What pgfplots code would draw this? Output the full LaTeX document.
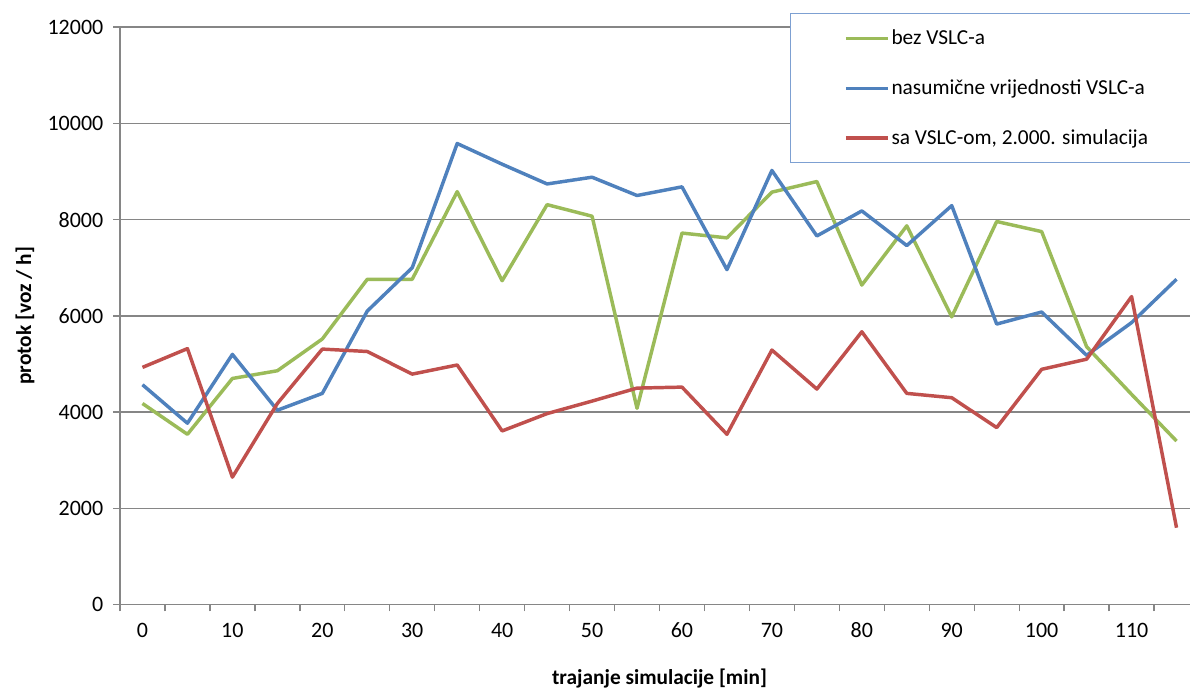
\documentclass[border=0pt]{standalone}
\usepackage{pgfplots}
\pgfplotsset{compat=1.18}
\usepackage{fontspec}
\setmainfont{Carlito}

\definecolor{sgreen}{HTML}{9BBB59}
\definecolor{sblue}{HTML}{4F81BD}
\definecolor{sred}{HTML}{C0504D}
\definecolor{axgray}{HTML}{868686}
\definecolor{legborder}{RGB}{125,160,210}

% 1 px of the reference = 0.75pt
\begin{document}
\begin{tikzpicture}
\begin{axis}[
  scale only axis,
  width=809.25pt, height=433.3pt,
  xmin=-2.5, xmax=117.5,
  ymin=0, ymax=12000,
  scaled y ticks=false,
  axis x line*=bottom, axis y line*=left,
  axis line style={draw=axgray, line width=1pt, -},
  tick align=outside,
  major tick length=5pt,
  tick style={draw=axgray, line width=1pt},
  ytick={0,2000,...,12000},
  ymajorgrids,
  grid style={draw=axgray, line width=1pt},
  xtick={-2.5,2.5,...,117.5},
  xticklabels={},
  extra x ticks={0,10,...,110},
  extra x tick labels={0,10,20,30,40,50,60,70,80,90,100,110},
  extra x tick style={major tick length=0pt, grid=none,
    xticklabel style={yshift=-10pt}},
  tick label style={font=\fontsize{16.5}{19}\selectfont, text=black},
  yticklabel style={xshift=-4pt, /pgf/number format/1000 sep={}},
  /pgf/number format/assume math mode=true,
  xlabel={trajanje simulacije [min]},
  ylabel={protok [voz / h]},
  every axis x label/.style={at={(rel axis cs:0.5,0)}, yshift=-55.7pt,
    anchor=center, font=\fontsize{16}{19}\selectfont\bfseries},
  every axis y label/.style={at={(rel axis cs:0,0.5)}, xshift=-71.25pt,
    rotate=90, anchor=center, font=\fontsize{16}{19}\selectfont\bfseries},
  legend cell align=left,
  legend style={at={(rel axis cs:0.621,1.0242)}, anchor=north west,
    draw=legborder, line width=1pt, fill=white,
    inner xsep=40pt, inner ysep=10.25pt, row sep=20.75pt,
    font=\fontsize{16}{19}\selectfont,
    nodes={inner xsep=1.5pt}},
  legend image code/.code={\draw[#1] (0pt,0pt) -- (31.5pt,0pt);},
  every axis plot/.append style={line width=2.6pt, line join=round},
]
\addplot[sgreen] coordinates {
  (0,4180) (5,3540) (10,4700) (15,4860) (20,5520) (25,6760)
  (30,6760) (35,8580) (40,6730) (45,8310) (50,8070) (55,4080)
  (60,7720) (65,7620) (70,8570) (75,8790) (80,6640) (85,7870)
  (90,5980) (95,7960) (100,7750) (105,5360) (110,4370) (115,3400)};
\addlegendentry{bez VSLC-a}
\addplot[sblue] coordinates {
  (0,4570) (5,3770) (10,5200) (15,4040) (20,4390) (25,6100)
  (30,7000) (35,9580) (40,9150) (45,8740) (50,8880) (55,8500)
  (60,8680) (65,6960) (70,9020) (75,7660) (80,8180) (85,7460)
  (90,8290) (95,5830) (100,6080) (105,5180) (110,5860) (115,6760)};
\addlegendentry{nasumične vrijednosti VSLC-a}
\addplot[sred] coordinates {
  (0,4930) (5,5320) (10,2650) (15,4180) (20,5310) (25,5260)
  (30,4790) (35,4980) (40,3610) (45,3970) (50,4230) (55,4500)
  (60,4520) (65,3540) (70,5290) (75,4480) (80,5670) (85,4390)
  (90,4300) (95,3680) (100,4890) (105,5100) (110,6400) (115,1600)};
\addlegendentry{sa VSLC-om, 2.000. simulacija}
\coordinate (bl) at (rel axis cs:0,0);
\coordinate (tr) at (rel axis cs:1,1);
\end{axis}
\pgfresetboundingbox
\path[use as bounding box] ([xshift=-90pt,yshift=-63.2pt]bl) rectangle ([xshift=-6.75pt,yshift=20.25pt]tr);
\end{tikzpicture}
\end{document}
